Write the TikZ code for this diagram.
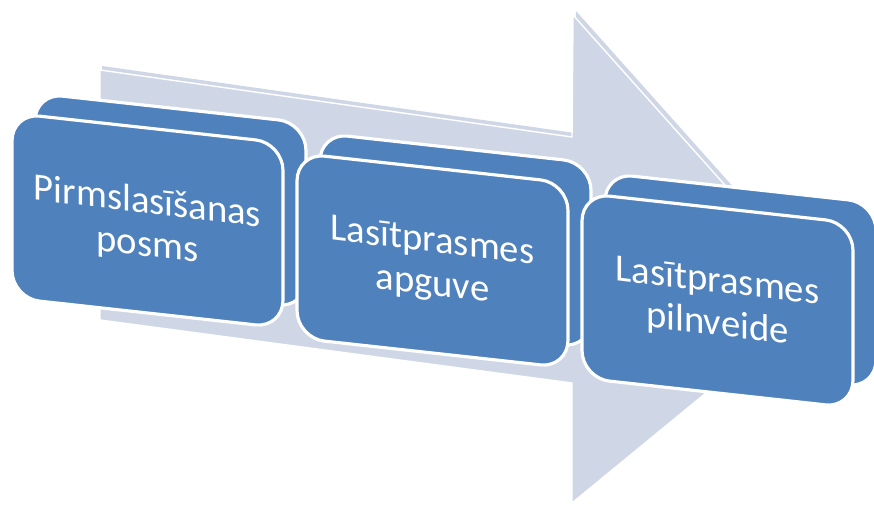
\documentclass[tikz,border=0pt]{standalone}
\usepackage{fontspec}
\setmainfont{Carlito}
\usetikzlibrary{positioning}
\definecolor{stageblue}{HTML}{4F81BD}
\definecolor{arrowgrey}{HTML}{CFD6E5}
\tikzset{
  stage/.style={rectangle, rounded corners=0.55cm, draw=white, line width=1.8pt,
    fill=stageblue, minimum width=5.42cm, minimum height=3.7cm, inner sep=0pt,
    yslant=-0.11, transform shape},
  stagetext/.style={text=white, align=center, inner sep=0pt, yshift=-2.3pt,
    yslant=-0.12, transform shape, font=\fontsize{22}{24.5}\selectfont}
}

\begin{document}
\begin{tikzpicture}[x=0.02cm, y=-0.02cm]
    \useasboundingbox (0,0) rectangle (874,504);
    % big arrow behind
    \fill[arrowgrey] (102,66) -- (575,133) -- (576,11) -- (828,293) -- (575,500) -- (575,380) -- (102,316) -- cycle;
    \filldraw[fill=arrowgrey, draw=white, line width=0.8pt] (100,70) -- (572,137) -- (573,15) -- (824,296) -- (572,503) -- (572,383) -- (100,320) -- cycle;
    % stages
    \node(pirms top) [stage] at (170.5,200.5) {};
    \node(pirms) [stage] at (147.5,220.5) {};
    \node(pirms text) [stagetext] at (pirms.center) {Pirmslasīšanas\\posms};
    \node(apguve top) [stage] at (455.5,240.5) {};
    \node(apguve) [stage] at (432.5,260.5) {};
    \node(apguve text) [stagetext] at (apguve.center) {Lasītprasmes\\apguve};
    \node(pilnv top) [stage] at (740.5,280.5) {};
    \node(pilnv) [stage] at (717.5,300.5) {};
    \node(pilnv text) [stagetext] at (pilnv.center) {Lasītprasmes\\pilnveide};
\end{tikzpicture}
\end{document}
